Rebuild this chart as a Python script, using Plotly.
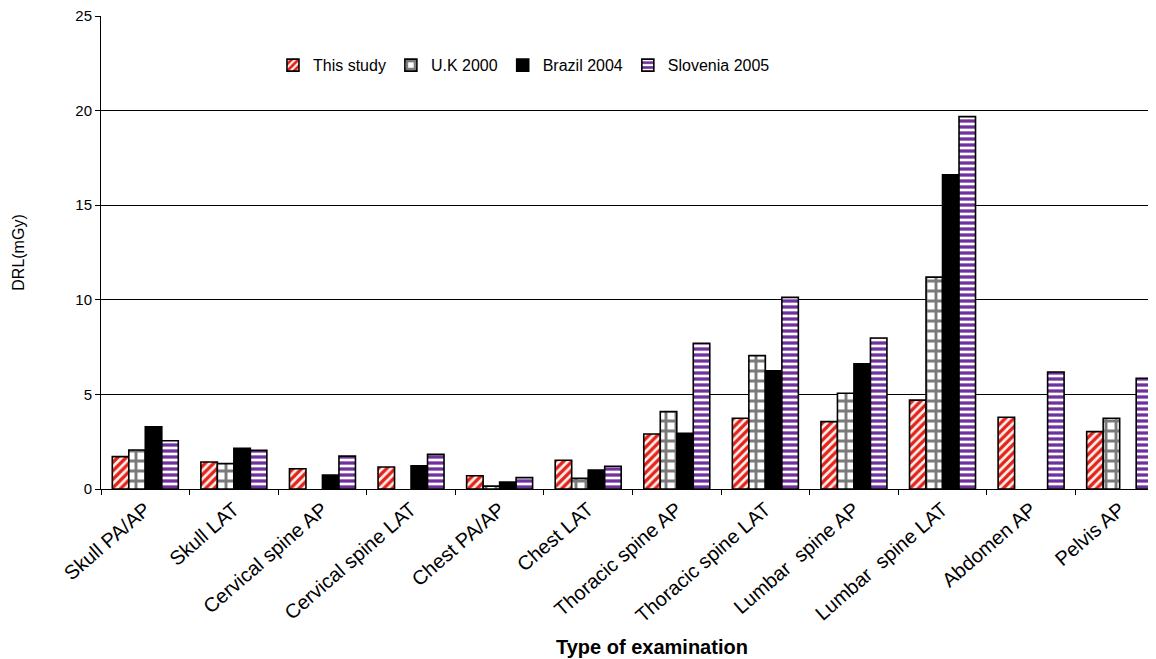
import plotly.graph_objects as go

categories = ["Skull PA/AP", "Skull LAT", "Cervical spine AP", "Cervical spine LAT",
              "Chest PA/AP", "Chest LAT", "Thoracic spine AP", "Thoracic spine LAT",
              "Lumbar  spine AP", "Lumbar  spine LAT", "Abdomen AP", "Pelvis AP"]
this_study = [1.71, 1.43, 1.07, 1.16, 0.70, 1.52, 2.91, 3.74, 3.56, 4.70, 3.79, 3.03]
uk_2000 = [2.06, 1.34, None, None, 0.15, 0.56, 4.09, 7.05, 5.06, 11.2, None, 3.74]
brazil_2004 = [3.29, 2.15, 0.74, 1.22, 0.37, 1.00, 2.94, 6.25, 6.62, 16.61, None, None]
slovenia_2005 = [2.55, 2.04, 1.74, 1.83, 0.60, 1.20, 7.70, 10.13, 7.98, 19.68, 6.18, 5.85]

series = [
    ("This study", this_study,
     dict(shape="/", fgcolor="#E2231A", bgcolor="#FFF1EE", fgopacity=1, size=6, solidity=0.55), "#FFFFFF"),
    ("U.K 2000", uk_2000,
     dict(shape="+", fgcolor="#7A7A7A", bgcolor="#FFFFFF", fgopacity=1, size=10, solidity=0.5), "#FFFFFF"),
    ("Brazil 2004", brazil_2004, None, "#000000"),
    ("Slovenia 2005", slovenia_2005,
     dict(shape="-", fgcolor="#7030A0", bgcolor="#FFFFFF", fgopacity=1, size=6, solidity=0.55), "#FFFFFF"),
]

fig = go.Figure()
for name, vals, patt, col in series:
    marker = dict(color=col, line=dict(color="#000000", width=1.6))
    if patt:
        marker["pattern"] = patt
    fig.add_trace(go.Bar(x=categories, y=vals, name=name, marker=marker))

font_family = "Liberation Sans, Arial, sans-serif"
fig.update_layout(
    width=1148, height=651,
    barmode="group", bargap=0.255, bargroupgap=0,
    plot_bgcolor="white", paper_bgcolor="white",
    margin=dict(l=93, r=0, t=8, b=170, autoexpand=False),
    font=dict(family=font_family, size=15, color="#000000"),
    legend=dict(orientation="h", x=0.163, y=0.896, xanchor="left", yanchor="middle",
                font=dict(size=16), bgcolor="rgba(0,0,0,0)", traceorder="normal"),
    xaxis=dict(range=[-0.5, 11.41], tickangle=-41, tickson="boundaries", ticks="outside",
               ticklen=5, tickcolor="#000000", showline=True, linecolor="#000000", linewidth=1,
               showgrid=False, tickfont=dict(size=20), ticklabeloverflow="allow"),
    yaxis=dict(range=[0, 25], dtick=5, ticks="outside", ticklen=5, tickcolor="#000000",
               showline=True, linecolor="#000000", linewidth=1, showgrid=True,
               gridcolor="#000000", gridwidth=1, zeroline=False, tickfont=dict(size=15),
               ticklabeloverflow="allow",
               title=dict(text="DRL(mGy)", font=dict(size=16), standoff=46)),
    annotations=[dict(text="<b>Type of examination</b>", xref="paper", yref="paper",
                      x=0.522, y=-0.334, xanchor="center", yanchor="middle",
                      showarrow=False, font=dict(size=20))],
)

fig.write_html("out.html")
